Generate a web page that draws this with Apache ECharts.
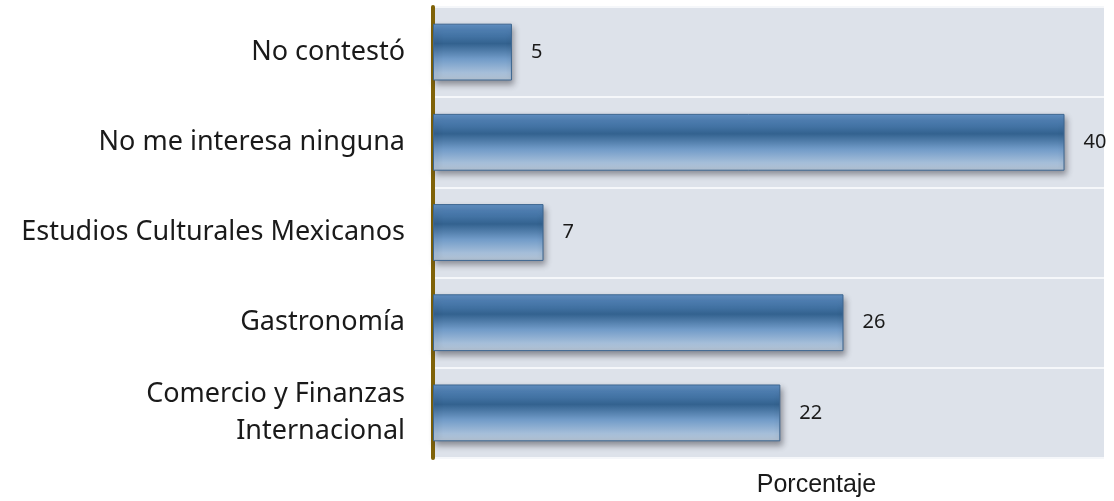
<!DOCTYPE html>
<html>
<head>
<meta charset="utf-8">
<script src="https://cdn.jsdelivr.net/npm/echarts@6/dist/echarts.min.js"></script>
<style>
  html, body { margin: 0; padding: 0; background: #ffffff; }
  #chart { width: 1114px; height: 501px; }
</style>
</head>
<body>
<div id="chart"></div>
<script>
var categories = ['Comercio y Finanzas\nInternacional', 'Gastronomía', 'Estudios Culturales Mexicanos', 'No me interesa ninguna', 'No contestó'];
var values = [22, 26, 7, 40, 5];
var axisName = 'Porcentaje';

var chart = echarts.init(document.getElementById('chart'), null, { renderer: 'canvas' });

var barColor = new echarts.graphic.LinearGradient(0, 0, 0, 1, [
  { offset: 0, color: '#6393c6' },
  { offset: 0.12, color: '#4f80b4' },
  { offset: 0.35, color: '#33628f' },
  { offset: 0.62, color: '#719bc8' },
  { offset: 0.86, color: '#a5bed9' },
  { offset: 1, color: '#b3c1d1' }
]);

chart.setOption({
  animation: false,
  grid: { left: 433, right: 10, top: 7, bottom: 43, containLabel: false,
    outerBoundsMode: 'none',
    show: true, borderWidth: 0,
    backgroundColor: '#dde2ea'
  },
  xAxis: {
    type: 'value',
    min: 0,
    max: 42.5,
    name: axisName,
    nameLocation: 'middle',
    nameGap: 15,
    nameTextStyle: { color: '#1a1a1a', fontSize: 25, fontFamily: 'Liberation Sans', padding: [0, 0, 0, 96] },
    axisLine: { show: false },
    axisTick: { show: false },
    axisLabel: { show: false },
    splitLine: { show: false }
  },
  yAxis: {
    type: 'category',
    data: categories,
    axisLine: { show: true, lineStyle: { color: '#7f6208', width: 4 } },
    axisTick: { show: false },
    axisLabel: { color: '#1a1a1a', fontSize: 27, fontFamily: 'Noto Sans', margin: 28, align: 'right', lineHeight: 37 },
    splitLine: { show: true, lineStyle: { color: '#f5f7fa', width: 2 } }
  },
  series: [{
    type: 'bar',
    data: values,
    barCategoryGap: '37%',
    itemStyle: {
      color: barColor,
      borderColor: '#3d6690',
      borderWidth: 1,
      shadowColor: 'rgba(40,40,50,0.45)',
      shadowBlur: 6,
      shadowOffsetX: 2,
      shadowOffsetY: 4
    },
    label: {
      show: true,
      position: 'right',
      distance: 19,
      color: '#1a1a1a',
      fontSize: 20,
      fontFamily: 'Noto Sans'
    }
  }]
});
</script>
</body>
</html>
